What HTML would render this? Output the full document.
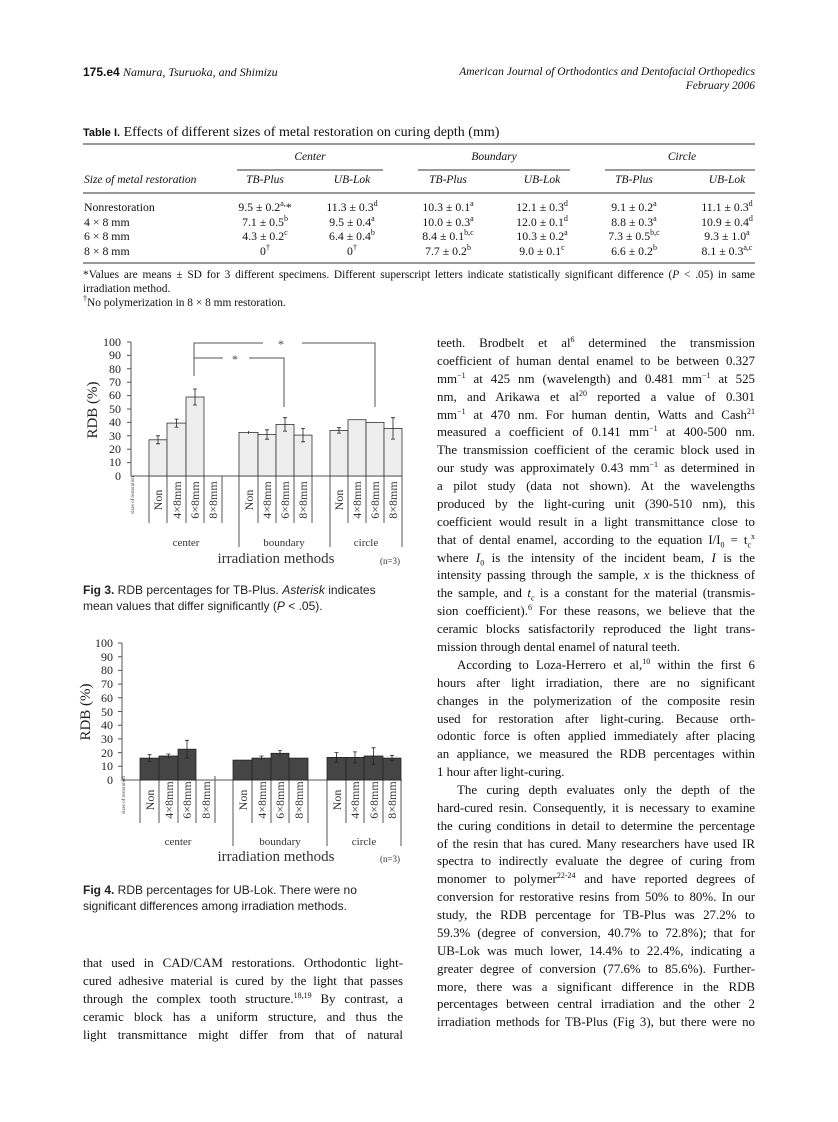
<!DOCTYPE html>
<html><head><meta charset="utf-8"><style>
body{margin:0;background:#fff;}
#p{position:relative;width:838px;height:1122px;overflow:hidden;font-family:"Liberation Serif",serif;color:#111;}
.a{position:absolute;white-space:nowrap;}
.l{position:absolute;left:437px;width:318px;font-size:12.9px;line-height:16px;text-align:justify;text-align-last:justify;}
.ll{position:absolute;left:83px;width:320px;font-size:12.9px;line-height:16px;text-align:justify;text-align-last:justify;}
.n{text-align-last:left;}
sup{font-size:8px;line-height:0;vertical-align:5px;}
sub{font-size:8px;line-height:0;}
.s{font-family:"Liberation Sans",sans-serif;}
.cap{position:absolute;left:83px;font-family:"Liberation Sans",sans-serif;font-size:12px;line-height:16px;color:#222;}
</style></head><body><div id="p">
<div class="a s" style="left:83px;top:65px;font-size:12px;font-weight:bold;">175.e4 <span style="font-family:'Liberation Serif',serif;font-style:italic;font-weight:normal;font-size:12px;">Namura, Tsuruoka, and Shimizu</span></div>
<div class="a" style="right:83px;top:65px;font-size:11.5px;font-style:italic;text-align:right;line-height:14px;">American Journal of Orthodontics and Dentofacial Orthopedics<br>February 2006</div>

<div class="a" style="left:83px;top:125px;font-size:14px;"><span class="s" style="font-size:11px;font-weight:bold;">Table I.</span> Effects of different sizes of metal restoration on curing depth (mm)</div>
<svg class="a" style="left:0;top:0" width="838" height="1122">
<g stroke="#333" stroke-width="1">
<line x1="83" y1="144" x2="755" y2="144"/>
<line x1="237" y1="170" x2="383" y2="170"/>
<line x1="418" y1="170" x2="570" y2="170"/>
<line x1="605" y1="170" x2="755" y2="170"/>
<line x1="83" y1="193" x2="755" y2="193"/>
<line x1="83" y1="263" x2="755" y2="263"/>
</g>
<!-- Fig 3 -->
<g font-family="Liberation Serif,serif" font-size="12" fill="#222" text-anchor="end">
<text x="121" y="480">0</text><text x="121" y="466">10</text><text x="121" y="453">20</text><text x="121" y="440">30</text><text x="121" y="426">40</text><text x="121" y="413">50</text><text x="121" y="399">60</text><text x="121" y="386">70</text><text x="121" y="373">80</text><text x="121" y="359">90</text><text x="121" y="346">100</text>
</g>
<text transform="translate(97,410) rotate(-90)" text-anchor="middle" font-family="Liberation Serif,serif" font-size="15" fill="#222">RDB (%)</text>
<g stroke="#555" fill="none" stroke-width="1">
<path d="M131 342V476H402"/>
<path d="M127 342h4M127 355.4h4M127 368.8h4M127 382.2h4M127 395.6h4M127 409h4M127 422.4h4M127 435.8h4M127 449.2h4M127 462.6h4"/>
<path d="M194 376V343H263M302 343H375V407"/>
<path d="M194 358H223M249 358H284V407"/>
<path d="M222 476V523M149 476V523M167 476V523M186 476V523M204 476V523M239 476V547M258 476V523M276 476V523M294 476V523M312 476V523M330 476V547M348 476V523M366 476V523M384 476V523M402 476V547"/>
</g>
<g font-family="Liberation Serif,serif" font-size="12" fill="#444" text-anchor="middle"><text x="281" y="348">*</text><text x="235" y="363">*</text></g>
<g fill="#eee" stroke="#333" stroke-width="0.8">
<rect x="149" y="439.8" width="18" height="36.2"/><rect x="167" y="423.1" width="19" height="52.9"/><rect x="186" y="397" width="18" height="79"/>
<rect x="239" y="432.4" width="19" height="43.6"/><rect x="258" y="434.5" width="18" height="41.5"/><rect x="276" y="424.4" width="18" height="51.6"/><rect x="294" y="435.1" width="18" height="40.9"/>
<rect x="330" y="430.4" width="18" height="45.6"/><rect x="348" y="419.7" width="18" height="56.3"/><rect x="366" y="422.4" width="18" height="53.6"/><rect x="384" y="428.4" width="18" height="47.6"/>
</g>
<g stroke="#222" stroke-width="0.8" fill="none">
<path d="M158 435.8V443.8M156 435.8h4M156 443.8h4"/>
<path d="M176.5 419.1V427.1M174.5 419.1h4M174.5 427.1h4"/>
<path d="M195 389V405M193 389h4M193 405h4"/>
<path d="M248.5 431V433.8"/>
<path d="M267 429.8V439.2M265 429.8h4M265 439.2h4"/>
<path d="M285 417.7V431.1M283 417.7h4M283 431.1h4"/>
<path d="M303 428.4V441.8M301 428.4h4M301 441.8h4"/>
<path d="M339 427.7V433.1M337 427.7h4M337 433.1h4"/>
<path d="M393 417.7V439.1M391 417.7h4M391 439.1h4"/>
</g>
<g font-family="Liberation Serif,serif" font-size="12" fill="#333" text-anchor="middle">
<text transform="translate(162,500) rotate(-90)">Non</text><text transform="translate(181,500) rotate(-90)">4×8mm</text><text transform="translate(199,500) rotate(-90)">6×8mm</text><text transform="translate(217,500) rotate(-90)">8×8mm</text>
<text transform="translate(253,500) rotate(-90)">Non</text><text transform="translate(271,500) rotate(-90)">4×8mm</text><text transform="translate(289,500) rotate(-90)">6×8mm</text><text transform="translate(307,500) rotate(-90)">8×8mm</text>
<text transform="translate(343,500) rotate(-90)">Non</text><text transform="translate(361,500) rotate(-90)">4×8mm</text><text transform="translate(379,500) rotate(-90)">6×8mm</text><text transform="translate(397,500) rotate(-90)">8×8mm</text>
<text x="186" y="546" font-size="11">center</text><text x="284" y="546" font-size="11">boundary</text><text x="366" y="546" font-size="11">circle</text>
<text x="276" y="563" font-size="15">irradiation methods</text>
<text x="390" y="564" font-size="9">(n=3)</text>
<text transform="translate(134,495) rotate(-90)" font-size="5">sizes of restoration</text>
</g>
<!-- Fig 4 -->
<g font-family="Liberation Serif,serif" font-size="12" fill="#222" text-anchor="end">
<text x="113" y="784">0</text><text x="113" y="770">10</text><text x="113" y="757">20</text><text x="113" y="743">30</text><text x="113" y="729">40</text><text x="113" y="716">50</text><text x="113" y="702">60</text><text x="113" y="688">70</text><text x="113" y="674">80</text><text x="113" y="661">90</text><text x="113" y="647">100</text>
</g>
<text transform="translate(90,712) rotate(-90)" text-anchor="middle" font-family="Liberation Serif,serif" font-size="15" fill="#222">RDB (%)</text>
<g stroke="#555" fill="none" stroke-width="1">
<path d="M122 643V780H402"/>
<path d="M118 643h4M118 656.7h4M118 670.4h4M118 684.1h4M118 697.8h4M118 711.5h4M118 725.2h4M118 738.9h4M118 752.6h4M118 766.3h4"/>
<path d="M215 776V823M140 780V823M159 780V823M178 780V823M196 780V823M233 780V846M252 780V823M271 780V823M289 780V823M308 780V823M327 780V846M346 780V823M364 780V823M383 780V823M401 780V846"/>
</g>
<g fill="#454545" stroke="#222" stroke-width="0.8">
<rect x="140" y="758.1" width="19" height="21.9"/><rect x="159" y="756" width="19" height="24"/><rect x="178" y="749.2" width="18" height="30.8"/>
<rect x="233" y="760.1" width="19" height="19.9"/><rect x="252" y="758.1" width="19" height="21.9"/><rect x="271" y="753.3" width="18" height="26.7"/><rect x="289" y="758.1" width="19" height="21.9"/>
<rect x="327" y="757.4" width="19" height="22.6"/><rect x="346" y="757.4" width="18" height="22.6"/><rect x="364" y="756" width="19" height="24"/><rect x="383" y="758.1" width="18" height="21.9"/>
</g>
<g stroke="#222" stroke-width="0.8" fill="none">
<path d="M149.5 754.7V761.5M147.5 754.7h4M147.5 761.5h4"/>
<path d="M168.5 754V758M166.5 754h4"/>
<path d="M187 740.3V758.1M185 740.3h4M185 758.1h4"/>
<path d="M261.5 756V760.2M259.5 756h4"/>
<path d="M280 750.6V756M278 750.6h4"/>
<path d="M336.5 752.6V762.2M334.5 752.6h4M334.5 762.2h4"/>
<path d="M355 751.9V762.9M353 751.9h4M353 762.9h4"/>
<path d="M373.5 747.8V764.2M371.5 747.8h4M371.5 764.2h4"/>
<path d="M392 755.4V760.8M390 755.4h4M390 760.8h4"/>
</g>
<g font-family="Liberation Serif,serif" font-size="12" fill="#333" text-anchor="middle">
<text transform="translate(154,800) rotate(-90)">Non</text><text transform="translate(173,800) rotate(-90)">4×8mm</text><text transform="translate(191,800) rotate(-90)">6×8mm</text><text transform="translate(210,800) rotate(-90)">8×8mm</text>
<text transform="translate(247,800) rotate(-90)">Non</text><text transform="translate(266,800) rotate(-90)">4×8mm</text><text transform="translate(284,800) rotate(-90)">6×8mm</text><text transform="translate(303,800) rotate(-90)">8×8mm</text>
<text transform="translate(341,800) rotate(-90)">Non</text><text transform="translate(359,800) rotate(-90)">4×8mm</text><text transform="translate(378,800) rotate(-90)">6×8mm</text><text transform="translate(396,800) rotate(-90)">8×8mm</text>
<text x="178" y="845" font-size="11">center</text><text x="280" y="845" font-size="11">boundary</text><text x="364" y="845" font-size="11">circle</text>
<text x="276" y="861" font-size="15">irradiation methods</text>
<text x="390" y="862" font-size="9">(n=3)</text>
<text transform="translate(125,795) rotate(-90)" font-size="5">sizes of restoration</text>
</g>
</svg>

<div class="a" style="left:310px;top:151px;font-size:11.5px;font-style:italic;transform:translateX(-50%)">Center</div>
<div class="a" style="left:494px;top:151px;font-size:11.5px;font-style:italic;transform:translateX(-50%)">Boundary</div>
<div class="a" style="left:682px;top:151px;font-size:11.5px;font-style:italic;transform:translateX(-50%)">Circle</div>
<div class="a" style="left:84px;top:174px;font-size:11.5px;font-style:italic;">Size of metal restoration</div>
<div class="a" style="left:265px;top:174px;font-size:11.5px;font-style:italic;transform:translateX(-50%)">TB-Plus</div>
<div class="a" style="left:352px;top:174px;font-size:11.5px;font-style:italic;transform:translateX(-50%)">UB-Lok</div>
<div class="a" style="left:448px;top:174px;font-size:11.5px;font-style:italic;transform:translateX(-50%)">TB-Plus</div>
<div class="a" style="left:542px;top:174px;font-size:11.5px;font-style:italic;transform:translateX(-50%)">UB-Lok</div>
<div class="a" style="left:634px;top:174px;font-size:11.5px;font-style:italic;transform:translateX(-50%)">TB-Plus</div>
<div class="a" style="left:727px;top:174px;font-size:11.5px;font-style:italic;transform:translateX(-50%)">UB-Lok</div>

<div class="a" style="left:84px;top:200px;font-size:11.8px;line-height:14.5px;">Nonrestoration<br>4 × 8 mm<br>6 × 8 mm<br>8 × 8 mm</div>
<div class="a" style="left:265px;top:200px;font-size:11.8px;line-height:14.5px;text-align:center;transform:translateX(-50%)">9.5 ± 0.2<sup>a,</sup>*<br>7.1 ± 0.5<sup>b</sup><br>4.3 ± 0.2<sup>c</sup><br>0<sup>†</sup></div>
<div class="a" style="left:352px;top:200px;font-size:11.8px;line-height:14.5px;text-align:center;transform:translateX(-50%)">11.3 ± 0.3<sup>d</sup><br>9.5 ± 0.4<sup>a</sup><br>6.4 ± 0.4<sup>b</sup><br>0<sup>†</sup></div>
<div class="a" style="left:448px;top:200px;font-size:11.8px;line-height:14.5px;text-align:center;transform:translateX(-50%)">10.3 ± 0.1<sup>a</sup><br>10.0 ± 0.3<sup>a</sup><br>8.4 ± 0.1<sup>b,c</sup><br>7.7 ± 0.2<sup>b</sup></div>
<div class="a" style="left:542px;top:200px;font-size:11.8px;line-height:14.5px;text-align:center;transform:translateX(-50%)">12.1 ± 0.3<sup>d</sup><br>12.0 ± 0.1<sup>d</sup><br>10.3 ± 0.2<sup>a</sup><br>9.0 ± 0.1<sup>c</sup></div>
<div class="a" style="left:634px;top:200px;font-size:11.8px;line-height:14.5px;text-align:center;transform:translateX(-50%)">9.1 ± 0.2<sup>a</sup><br>8.8 ± 0.3<sup>a</sup><br>7.3 ± 0.5<sup>b,c</sup><br>6.6 ± 0.2<sup>b</sup></div>
<div class="a" style="left:727px;top:200px;font-size:11.8px;line-height:14.5px;text-align:center;transform:translateX(-50%)">11.1 ± 0.3<sup>d</sup><br>10.9 ± 0.4<sup>d</sup><br>9.3 ± 1.0<sup>a</sup><br>8.1 ± 0.3<sup>a,c</sup></div>

<div class="a" style="left:83px;top:268px;width:672px;white-space:normal;font-size:11.4px;line-height:14px;text-align:justify;">*Values are means ± SD for 3 different specimens. Different superscript letters indicate statistically significant difference (<i>P</i> &lt; .05) in same irradiation method.<br><sup>†</sup>No polymerization in 8 × 8 mm restoration.</div>

<div class="cap" style="top:582px;"><b>Fig 3.</b> RDB percentages for TB-Plus. <i>Asterisk</i> indicates<br>mean values that differ significantly (<i>P</i> &lt; .05).</div>
<div class="cap" style="top:882px;"><b>Fig 4.</b> RDB percentages for UB-Lok. There were no<br>significant differences among irradiation methods.</div>

<div class="ll" style="top:955px">that used in CAD/CAM restorations. Orthodontic light-</div>
<div class="ll" style="top:973px">cured adhesive material is cured by the light that passes</div>
<div class="ll" style="top:991px">through the complex tooth structure.<sup>18,19</sup> By contrast, a</div>
<div class="ll" style="top:1009px">ceramic block has a uniform structure, and thus the</div>
<div class="ll" style="top:1027px">light transmittance might differ from that of natural</div>

<div class="l" style="top:335px">teeth. Brodbelt et al<sup>6</sup> determined the transmission</div>
<div class="l" style="top:353px">coefficient of human dental enamel to be between 0.327</div>
<div class="l" style="top:371px">mm<sup>−1</sup> at 425 nm (wavelength) and 0.481 mm<sup>−1</sup> at 525</div>
<div class="l" style="top:389px">nm, and Arikawa et al<sup>20</sup> reported a value of 0.301</div>
<div class="l" style="top:407px">mm<sup>−1</sup> at 470 nm. For human dentin, Watts and Cash<sup>21</sup></div>
<div class="l" style="top:424px">measured a coefficient of 0.141 mm<sup>−1</sup> at 400-500 nm.</div>
<div class="l" style="top:442px">The transmission coefficient of the ceramic block used in</div>
<div class="l" style="top:460px">our study was approximately 0.43 mm<sup>−1</sup> as determined in</div>
<div class="l" style="top:478px">a pilot study (data not shown). At the wavelengths</div>
<div class="l" style="top:496px">produced by the light-curing unit (390-510 nm), this</div>
<div class="l" style="top:514px">coefficient would result in a light transmittance close to</div>
<div class="l" style="top:532px">that of dental enamel, according to the equation I/I<sub>0</sub> = t<sub>c</sub><sup>x</sup></div>
<div class="l" style="top:550px">where <i>I</i><sub>0</sub> is the intensity of the incident beam, <i>I</i> is the</div>
<div class="l" style="top:567px">intensity passing through the sample, <i>x</i> is the thickness of</div>
<div class="l" style="top:585px">the sample, and <i>t<sub>c</sub></i> is a constant for the material (transmis-</div>
<div class="l" style="top:603px">sion coefficient).<sup>6</sup> For these reasons, we believe that the</div>
<div class="l" style="top:621px">ceramic blocks satisfactorily reproduced the light trans-</div>
<div class="l n" style="top:639px">mission through dental enamel of natural teeth.</div>
<div class="l" style="top:657px;padding-left:20px;width:298px">According to Loza-Herrero et al,<sup>10</sup> within the first 6</div>
<div class="l" style="top:675px">hours after light irradiation, there are no significant</div>
<div class="l" style="top:693px">changes in the polymerization of the composite resin</div>
<div class="l" style="top:711px">used for restoration after light-curing. Because orth-</div>
<div class="l" style="top:728px">odontic force is often applied immediately after placing</div>
<div class="l" style="top:746px">an appliance, we measured the RDB percentages within</div>
<div class="l n" style="top:764px">1 hour after light-curing.</div>
<div class="l" style="top:782px;padding-left:20px;width:298px">The curing depth evaluates only the depth of the</div>
<div class="l" style="top:800px">hard-cured resin. Consequently, it is necessary to examine</div>
<div class="l" style="top:818px">the curing conditions in detail to determine the percentage</div>
<div class="l" style="top:836px">of the resin that has cured. Many researchers have used IR</div>
<div class="l" style="top:853px">spectra to indirectly evaluate the degree of curing from</div>
<div class="l" style="top:871px">monomer to polymer<sup>22-24</sup> and have reported degrees of</div>
<div class="l" style="top:889px">conversion for restorative resins from 50% to 80%. In our</div>
<div class="l" style="top:907px">study, the RDB percentage for TB-Plus was 27.2% to</div>
<div class="l" style="top:925px">59.3% (degree of conversion, 40.7% to 72.8%); that for</div>
<div class="l" style="top:943px">UB-Lok was much lower, 14.4% to 22.4%, indicating a</div>
<div class="l" style="top:961px">greater degree of conversion (77.6% to 85.6%). Further-</div>
<div class="l" style="top:979px">more, there was a significant difference in the RDB</div>
<div class="l" style="top:996px">percentages between central irradiation and the other 2</div>
<div class="l" style="top:1014px">irradiation methods for TB-Plus (Fig 3), but there were no</div>
</div></body></html>
